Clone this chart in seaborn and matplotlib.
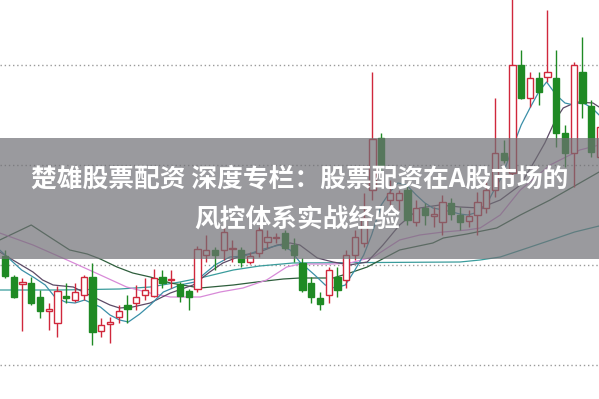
import matplotlib
matplotlib.use("Agg")
import matplotlib.pyplot as plt
import seaborn as sns
import pandas as pd
from matplotlib.patches import Rectangle

# candle data (index, open, close, high, low)
opens = [20.9, 18.8, 18.1, 18.2, 16.8, 15.4, 14.2, 16.9, 16.5, 17.0,
         18.8, 13.4, 14.1, 14.8, 16.0, 16.2, 17.0, 16.9, 18.8, 18.5,
         18.1, 17.4, 17.6, 21.0, 21.5, 21.5, 21.6, 21.5, 20.3, 21.2,
         22.3, 22.7, 23.2, 22.0, 20.2, 18.2, 16.7, 17.0, 18.8, 18.5,
         21.0, 22.2, 27.5, 32.7, 26.5, 26.5, 27.5, 24.3, 25.7, 24.9,
         24.3, 26.2, 25.0, 24.4, 25.0, 25.7, 27.5, 31.2, 29.2, 40.0,
         36.7, 38.7, 38.8, 38.7, 33.2, 31.2, 39.3, 35.9, 30.8]
closes = [18.9, 16.8, 18.3, 16.2, 15.4, 15.6, 17.4, 16.7, 17.3, 18.8,
          13.3, 14.0, 14.3, 15.4, 15.6, 16.8, 17.5, 18.7, 18.2, 18.6,
          16.9, 16.8, 21.6, 21.5, 21.0, 23.3, 21.7, 20.3, 20.9, 23.5,
          22.8, 22.8, 21.7, 21.0, 17.5, 16.8, 16.1, 19.5, 17.5, 21.0,
          22.8, 24.7, 32.6, 30.0, 27.2, 27.2, 24.5, 25.7, 25.0, 25.1,
          26.3, 25.1, 24.3, 24.9, 26.3, 27.5, 31.2, 30.5, 40.0, 36.7,
          38.7, 37.3, 39.3, 33.2, 31.2, 40.0, 36.2, 31.3, 33.8]
highs = [21.5, 19.0, 18.7, 18.8, 17.5, 16.2, 17.9, 18.2, 18.2, 19.0,
         20.2, 14.7, 14.8, 16.0, 17.0, 18.0, 18.7, 19.6, 19.5, 19.5,
         18.3, 17.6, 21.9, 23.0, 21.8, 24.2, 22.5, 21.8, 21.3, 23.8,
         23.5, 23.2, 23.5, 22.7, 20.7, 18.8, 17.3, 19.8, 19.8, 21.5,
         23.5, 27.2, 39.3, 33.2, 28.5, 27.5, 28.0, 26.5, 26.2, 25.8,
         27.0, 26.7, 25.8, 25.5, 27.3, 28.3, 36.7, 32.5, 47.0, 41.5,
         39.3, 39.3, 45.5, 41.5, 34.0, 40.3, 42.8, 36.5, 34.5]
lows = [18.7, 16.7, 13.4, 16.0, 14.7, 13.5, 12.8, 16.2, 16.3, 16.5,
        12.0, 12.8, 12.2, 14.2, 14.2, 15.5, 16.5, 16.8, 17.7, 17.7,
        16.3, 15.5, 17.3, 20.3, 19.5, 20.5, 20.3, 19.8, 20.1, 20.8,
        21.7, 22.2, 21.5, 20.3, 17.3, 16.2, 15.5, 16.2, 16.8, 17.7,
        20.5, 21.8, 26.5, 29.3, 26.0, 25.5, 24.0, 23.9, 24.0, 23.8,
        23.0, 24.5, 23.5, 23.8, 23.0, 25.2, 26.8, 30.2, 28.8, 36.6,
        35.8, 36.0, 38.3, 31.8, 29.8, 27.8, 34.7, 30.8, 30.5]

# moving average lines, vertices
ma5_x = [-0.6, 0.9, 1.9, 3.4, 4.6, 5.7, 6.9, 8.0, 9.1, 10.9, 12.0, 13.1, 14.1,
         15.4, 16.6, 18.1, 20.0, 21.7, 22.9, 24.0, 25.7, 27.4, 29.1, 31.4, 32.6,
         33.7, 35.4, 36.6, 37.7, 38.9, 40.0, 41.0, 41.9, 43.0, 44.0, 44.9, 45.9,
         47.0, 48.0, 48.9, 50.1, 51.1, 52.0, 52.9, 54.1, 55.0, 55.9, 56.9, 57.9,
         59.0, 60.0, 61.0, 61.9, 63.0, 64.0, 65.0, 65.9, 67.1, 67.9]
ma5_y = [21.5, 20.3, 19.5, 18.7, 18.0, 16.8, 16.3, 16.2, 16.5, 15.8, 15.0, 14.5, 14.3,
         15.1, 16.0, 17.3, 18.0, 18.3, 19.2, 20.0, 20.8, 20.9, 21.5, 22.0, 21.5,
         20.3, 19.0, 18.0, 17.7, 18.0, 19.5, 21.0, 23.0, 26.0, 27.3, 28.2, 28.0,
         27.0, 26.2, 25.7, 25.5, 25.3, 25.1, 25.0, 25.3, 26.0, 27.5, 29.0, 31.5,
         34.0, 35.7, 37.3, 38.3, 37.0, 36.2, 36.0, 36.3, 35.7, 35.0]

ma10_x = [-0.6, 0.9, 3.2, 4.3, 5.5, 7.8, 10.1, 12.0, 13.1, 14.6, 16.6, 18.9, 21.5,
          23.4, 24.9, 27.2, 29.1, 31.1, 32.6, 33.7, 35.7, 37.5, 39.4, 41.4, 43.2,
          45.1, 47.4, 49.7, 52.0, 54.3, 56.6, 58.9, 60.6, 61.7, 62.9, 63.8, 65.3,
          67.2, 67.9]
ma10_y = [21.3, 20.5, 19.3, 18.5, 18.0, 17.8, 16.8, 16.0, 15.7, 15.8, 16.2, 17.2, 18.0,
          19.3, 20.2, 21.0, 21.3, 22.0, 22.2, 22.0, 20.7, 20.3, 20.0, 20.3, 22.0,
          24.0, 25.7, 26.0, 25.8, 25.7, 26.5, 28.0, 30.5, 32.2, 34.5, 35.7, 36.3,
          36.2, 35.8]

ma20_x = [-0.6, 3.2, 7.1, 10.9, 13.9, 16.6, 18.9, 22.3, 24.6, 27.2, 29.9, 32.2,
          33.7, 37.5, 39.4, 42.1, 45.1, 47.4, 50.1, 52.8, 54.3, 56.6, 58.9, 62.3,
          65.7, 67.9]
ma20_y = [23.2, 22.0, 20.5, 19.0, 17.8, 17.2, 16.8, 16.8, 17.3, 17.7, 18.5, 19.8,
          20.1, 20.1, 20.2, 20.8, 22.5, 23.0, 23.3, 23.5, 23.7, 25.0, 27.5, 30.0,
          31.5, 32.0]

ma30_x = [-0.6, 3.0, 5.1, 7.4, 9.4, 10.9, 12.8, 14.6, 16.6, 18.9, 22.3, 26.1, 28.8,
          31.8, 33.7, 37.5, 39.4, 41.4, 45.1, 48.9, 50.1, 52.8, 56.2, 58.9, 62.3,
          65.7, 67.9]
ma30_y = [22.5, 24.0, 22.8, 21.5, 21.1, 20.6, 19.8, 19.2, 18.8, 18.2, 17.7, 18.0, 18.3,
          18.6, 18.7, 18.7, 19.2, 19.8, 21.5, 22.2, 22.7, 23.1, 23.7, 25.0, 26.5,
          28.2, 29.3]

ma60_x = [-0.6, 6.3, 13.1, 16.6, 20.0, 22.3, 26.1, 29.1, 32.9, 52.0, 54.3, 56.6,
          59.7, 63.1, 65.1, 67.9]
ma60_y = [17.5, 17.5, 17.6, 17.8, 18.3, 18.7, 19.5, 19.9, 20.2, 20.3, 20.5, 20.8,
          21.7, 22.7, 23.3, 23.9]

grid_levels = [10, 20, 30, 40]
title_line1 = "楚雄股票配资 深度专栏：股票配资在A股市场的"
title_line2 = "风控体系实战经验"

UP = "#d0283c"
DOWN = "#1f8a24"

sns.set_style("white")
plt.rcParams['font.family'] = ['Noto Sans CJK SC', 'DejaVu Sans']

fig = plt.figure(figsize=(5.99, 3.99), dpi=100)
ax = fig.add_axes([0, 0, 1, 1])

for y in grid_levels:
    ax.axhline(y, color="#9a9a9a", lw=1.0, ls=(0, (1, 2)), zorder=0)

# moving averages
ma_lines = [
    (ma60_x, ma60_y, "#3a9c9c"),
    (ma30_x, ma30_y, "#2e5e3c"),
    (ma20_x, ma20_y, "#d88ad8"),
    (ma10_x, ma10_y, "#5c4a66"),
    (ma5_x, ma5_y, "#3a8fa8"),
]
for xs, ys, c in ma_lines:
    df = pd.DataFrame({"x": xs, "y": ys})
    sns.lineplot(data=df, x="x", y="y", color=c, lw=0.9, ax=ax,
                 estimator=None, sort=False, zorder=2)

# candles
width = 0.7
for i in range(len(opens)):
    o, c, h, l = opens[i], closes[i], highs[i], lows[i]
    up = c >= o
    col = UP if up else DOWN
    ax.vlines(i, l, h, color=col, lw=1.0, zorder=3)
    lo, hi = min(o, c), max(o, c)
    body_h = max(hi - lo, 0.12)
    ax.add_patch(Rectangle((i - width / 2, lo), width, body_h,
                           facecolor="white" if up else col,
                           edgecolor=col, lw=1.0, zorder=4))

ax.set_xlim(-0.57, 67.89)
ax.set_ylim(6.6, 46.5)
ax.set_axis_off()

# title banner
ax.axhspan(20.6, 32.7, color=(0.44, 0.44, 0.46), alpha=0.7, lw=0, zorder=5)
fig.text(0.5, 1 - 179 / 399, title_line1, color="white", fontsize=18.5,
         fontweight="bold", ha="center", va="center", zorder=6)
fig.text(0.497, 1 - 219 / 399, title_line2, color="white", fontsize=18.5,
         fontweight="bold", ha="center", va="center", zorder=6)

fig.savefig("out.png", dpi=100)
